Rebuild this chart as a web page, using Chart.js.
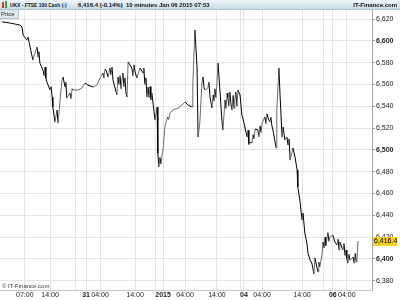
<!DOCTYPE html>
<html>
<head>
<meta charset="utf-8">
<script src="https://cdn.jsdelivr.net/npm/chart.js@4"></script>
<style>
  html, body { margin: 0; padding: 0; background: #fff; }
  #wrap { position: relative; width: 400px; height: 300px; overflow: hidden; font-family: "Liberation Sans", Arial, sans-serif; }
  #chart { position: absolute; left: 0; top: 0; }
  .hdr { position: absolute; left: 0; top: 0; width: 400px; height: 10px;
         background: linear-gradient(#eef6fa, #c8dde7); border-bottom: 1px solid #a8c2ce; box-sizing: border-box; }
  .hdr span { position: absolute; top: 1px; font: bold 6px "Liberation Sans", Arial, sans-serif; color: #111; line-height: 8px; white-space: nowrap; }
  .ico { position: absolute; top: 2px; width: 2px; height: 6px; }
  .price { position: absolute; left: 0; top: 10px; width: 17px; height: 8px; background: #dde8ee; border: 1px solid #b6c9d2;
           border-left: 0; border-top: 0; font: 6px "Liberation Sans", Arial, sans-serif; line-height: 8px; padding-left: 1px; color: #222; }
  .copy { position: absolute; left: 2px; top: 283px; font: 6px "Liberation Sans", Arial, sans-serif; color: #333; line-height: 7px; }
</style>
</head>
<body>
<div id="wrap">
  <canvas id="chart" width="400" height="300"></canvas>
  <div class="hdr">
    <div class="ico" style="left:2px;background:#d8332a"></div>
    <div class="ico" style="left:5px;top:1px;height:7px;background:#2fa83a"></div>
    <span style="left:10px;transform:scaleX(0.82);transform-origin:left">UKX - FTSE 100 Cash (-)</span>
    <span style="left:78px">6,416.4 (-0.14%)</span>
    <span style="left:126px">10 minutes</span>
    <span style="left:159px">Jan 06 2015 07:53</span>
    <span style="right:3px">IT-Finance.com</span>
  </div>
  <div class="price">Price</div>
  <div class="copy">© IT-Finance.com</div>
</div>
<script>
// session hours since chart start (10-minute bars)
const hours = [
  0.6, 2.9, 4.3, 5.7, 6.3, 6.6, 7.7, 8.0, 8.6, 9.4,
  10.0, 10.6, 10.9, 11.1, 11.4, 12.3, 12.6, 12.9, 13.1, 13.4,
  14.3, 14.6, 14.9, 15.1, 15.7, 16.3, 16.6, 17.1, 17.7, 18.0,
  18.6, 18.8, 19.1, 20.0, 20.3, 20.6, 20.9, 22.3, 23.4, 24.3,
  25.1, 26.6, 27.7, 28.6, 29.4, 29.7, 30.0, 30.3, 30.9, 31.4,
  31.7, 32.0, 32.3, 33.4, 33.7, 34.0, 34.3, 34.6, 34.9, 35.1,
  35.4, 35.7, 36.0, 36.3, 36.6, 37.7, 38.0, 38.3, 38.6, 39.1,
  40.0, 40.9, 41.1, 41.4, 41.7, 42.0, 42.3, 42.6, 42.9, 43.1,
  43.4, 44.3, 44.9, 45.1, 45.4, 45.7, 46.0, 46.3, 46.6, 47.1,
  47.5, 47.9, 48.2, 48.6, 49.4, 50.9, 52.0, 52.9, 53.7, 54.9,
  55.1, 55.7, 56.3, 56.6, 57.1, 57.7, 58.0, 58.3, 58.6, 59.4,
  59.7, 60.0, 60.6, 60.9, 61.1, 61.4, 61.7, 62.0, 62.3, 62.9,
  63.4, 63.7, 64.3, 64.6, 64.9, 65.1, 65.4, 65.7, 66.0, 66.3,
  66.6, 66.9, 67.1, 67.4, 67.7, 68.0, 68.6, 69.1, 69.4, 70.6,
  70.9, 71.1, 71.4, 72.0, 72.3, 72.6, 72.9, 73.7, 74.0, 74.3,
  74.6, 74.9, 75.7, 76.0, 76.3, 76.6, 77.1, 77.4, 77.7, 78.0,
  78.9, 79.1, 79.7, 80.0, 80.6, 80.9, 81.4, 82.0, 82.3, 82.6,
  82.9, 83.4, 83.7, 84.3, 84.9, 85.1, 85.7, 86.3, 86.6, 87.1,
  87.7, 88.0, 88.6, 89.1, 89.4, 89.7, 90.0, 90.6, 90.9, 91.1,
  91.4, 92.0, 92.3, 92.6, 92.9, 93.1, 93.4, 93.7, 94.0, 94.3,
  95.1, 95.7, 96.3, 96.6, 96.9, 97.1, 98.0, 98.3, 98.6, 98.9,
  99.1, 99.4, 99.7, 100.0, 100.9, 101.2, 101.5, 101.8, 102.0, 102.3
];
const prices = [
  6617.5, 6616.3, 6615.4, 6614.5, 6612.7, 6605.3, 6600.7, 6603.5, 6594.3, 6582.4,
  6588.8, 6594.3, 6585.1, 6590.0, 6579.6, 6573.2, 6568.0, 6576.0, 6566.0, 6562.2,
  6554.9, 6558.0, 6548.4, 6539.3, 6525.5, 6536.5, 6524.6, 6542.9, 6564.0, 6566.8,
  6557.6, 6562.0, 6547.5, 6552.1, 6547.0, 6556.0, 6554.9, 6554.9, 6556.7, 6561.3,
  6559.5, 6557.6, 6559.5, 6565.9, 6570.5, 6566.0, 6574.0, 6573.2, 6566.8, 6575.0,
  6569.0, 6576.0, 6564.0, 6550.3, 6566.8, 6560.0, 6568.0, 6556.0, 6566.0, 6570.5,
  6558.0, 6566.0, 6552.0, 6548.4, 6580.6, 6575.0, 6568.0, 6578.0, 6571.4, 6565.9,
  6575.0, 6570.5, 6575.0, 6560.0, 6566.0, 6548.4, 6557.6, 6548.0, 6558.0, 6546.0,
  6552.1, 6527.3, 6539.3, 6497.1, 6484.2, 6493.0, 6487.0, 6495.2, 6499.8, 6520.9,
  6526.0, 6530.0, 6528.0, 6533.8, 6536.5, 6538.4, 6541.1, 6543.9, 6541.1, 6539.3,
  6559.5, 6609.9, 6576.0, 6511.7, 6524.6, 6561.3, 6566.8, 6557.0, 6554.9, 6556.7,
  6562.0, 6548.4, 6538.4, 6550.3, 6545.0, 6556.0, 6548.0, 6561.3, 6579.6, 6552.1,
  6527.3, 6518.2, 6545.7, 6538.0, 6552.0, 6548.4, 6540.0, 6553.0, 6542.0, 6536.5,
  6550.0, 6538.0, 6545.7, 6553.0, 6540.0, 6554.9, 6550.3, 6531.9, 6529.2, 6511.7,
  6518.0, 6505.0, 6507.2, 6506.2, 6514.0, 6510.0, 6519.1, 6518.2, 6512.0, 6522.0,
  6516.0, 6524.6, 6530.1, 6524.0, 6533.0, 6529.2, 6525.5, 6530.0, 6522.0, 6518.2,
  6501.7, 6536.5, 6575.0, 6552.1, 6511.7, 6520.9, 6509.0, 6511.7, 6504.4, 6510.0,
  6490.6, 6497.1, 6501.7, 6493.4, 6481.5, 6465.9, 6453.9, 6435.6, 6442.0, 6423.7,
  6414.5, 6405.3, 6398.9, 6396.2, 6391.6, 6386.0, 6400.8, 6391.6, 6387.9, 6397.0,
  6392.5, 6403.5, 6415.4, 6410.0, 6420.0, 6412.0, 6417.3, 6424.0, 6416.0, 6420.0,
  6421.8, 6415.4, 6412.7, 6418.0, 6408.0, 6415.4, 6408.1, 6414.0, 6403.0, 6408.0,
  6400.8, 6396.0, 6404.0, 6398.9, 6401.7, 6396.0, 6405.0, 6397.0, 6398.9, 6416.4
];
const lastPrice = 6416.4;

const yTicks = [6380, 6400, 6420, 6440, 6460, 6480, 6500, 6520, 6540, 6560, 6580, 6600, 6620];
const xTickHours = [7.1, 14.3, 21.7, 24.6, 28.6, 38.6, 44.3, 46.6, 52.9, 62.0, 68.6, 69.7, 74.9, 86.3, 92.3, 95.1, 99.1];
const xTickLabels = ["07:00", "14:00", "", "31", "04:00", "14:00", "", "2015", "04:00", "14:00", "", "04", "04:00", "14:00", "", "06", "04:00"];
const dayLabels = ["31", "2015", "04", "06"];

const fmt = v => v.toLocaleString("en-US");

const lastMarker = {
  id: "lastMarker",
  afterDraw(chart) {
    const { ctx, chartArea, scales } = chart;
    const y = scales.y.getPixelForValue(lastPrice);
    ctx.save();
    ctx.fillStyle = "#f4d21f";
    ctx.fillRect(chartArea.right + 1, Math.round(y) - 4, 24, 9);
    ctx.fillStyle = "#000";
    ctx.font = "7px 'Liberation Sans', Arial, sans-serif";
    ctx.textBaseline = "middle";
    ctx.fillText(lastPrice.toLocaleString("en-US", { minimumFractionDigits: 1 }), chartArea.right + 2, Math.round(y) + 0.5);
    ctx.restore();
  },
};

new Chart(document.getElementById("chart"), {
  type: "line",
  data: {
    datasets: [{
      data: hours.map((h, i) => ({ x: h, y: prices[i] })),
      borderWidth: 1,
      pointRadius: 0,
      tension: 0,
      borderColor: "#000",
      segment: {
        borderColor: c => (c.p1.parsed.y >= c.p0.parsed.y ? "#6a6a6a" : "#000"),
      },
    }],
  },
  options: {
    responsive: false,
    animation: false,
    layout: { padding: { top: 10, left: 0, right: 0, bottom: 0 } },
    plugins: { legend: { display: false }, tooltip: { enabled: false } },
    scales: {
      x: {
        type: "linear",
        min: 0,
        max: 106.3,
        afterBuildTicks: s => { s.ticks = xTickHours.map(v => ({ value: v })); },
        afterFit: s => { s.height = 10; },
        ticks: {
          autoSkip: false,
          maxRotation: 0,
          padding: 1,
          color: "#222",
          callback: (v, i) => xTickLabels[i],
          font: c => ({ size: 7, family: "'Liberation Sans', Arial, sans-serif",
                        weight: dayLabels.includes(xTickLabels[c.index]) ? "bold" : "normal" }),
        },
        grid: { color: "#e4e4e4", tickLength: 0, drawTicks: false },
        border: { color: "#c8c8c8" },
      },
      y: {
        position: "right",
        min: 6371.4,
        max: 6628.3,
        afterBuildTicks: s => { s.ticks = yTicks.map(v => ({ value: v })); },
        afterFit: s => { s.width = 28; },
        ticks: {
          padding: 1,
          color: "#222",
          callback: v => fmt(v),
          font: c => ({ size: 7, family: "'Liberation Sans', Arial, sans-serif",
                        weight: c.tick && c.tick.value % 100 === 0 ? "bold" : "normal" }),
        },
        grid: { color: "#e4e4e4", tickLength: 3, tickColor: "#999" },
        border: { color: "#aaa" },
      },
    },
  },
  plugins: [lastMarker],
});
</script>
</body>
</html>
